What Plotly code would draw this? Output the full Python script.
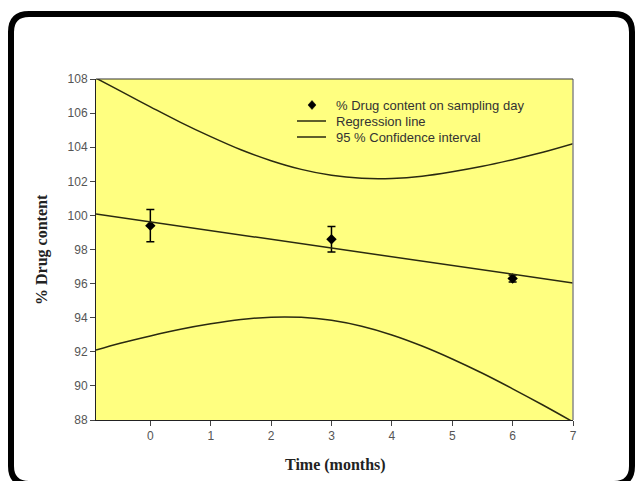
import plotly.graph_objects as go

# ---- data ----
months = [0, 3, 6]
drug_content = [99.4, 98.6, 96.3]
drug_err = [0.95, 0.75, 0.2]

reg_x = [-0.9, 7]
reg_y = [100.08, 96.04]

ci_x = [-0.9, -0.5, 0, 0.5, 1, 1.5, 2, 2.5, 3, 3.5, 4, 4.5, 5, 5.5, 6, 6.5, 7]
ci_upper = [108.05, 107.3, 106.37, 105.46, 104.62, 103.85, 103.21, 102.7, 102.35,
            102.18, 102.17, 102.3, 102.56, 102.88, 103.27, 103.7, 104.2]
ci_lower = [92.1, 92.5, 92.93, 93.32, 93.64, 93.89, 94.03, 94.02, 93.85,
            93.5, 92.99, 92.34, 91.58, 90.74, 89.83, 88.88, 87.89]

y_ticks = [88, 90, 92, 94, 96, 98, 100, 102, 104, 106, 108]
x_ticks = [0, 1, 2, 3, 4, 5, 6, 7]

legend_labels = ["% Drug content on sampling day", "Regression line", "95 % Confidence interval"]

W, H = 636, 481
ML, MR, MT, MB = 96, 63, 79, 61
PW, PH = W - ML - MR, H - MT - MB


def px(x):
    return (x - ML) / PW


def py(y):
    return (H - MB - y) / PH


LINE_C = "#2a2a10"

fig = go.Figure()

fig.add_trace(go.Scatter(
    x=ci_x, y=ci_upper, mode="lines", line=dict(color=LINE_C, width=1.5, shape="spline"),
    name=legend_labels[2]))
fig.add_trace(go.Scatter(
    x=ci_x, y=ci_lower, mode="lines", line=dict(color=LINE_C, width=1.5, shape="spline"),
    name=legend_labels[2]))
fig.add_trace(go.Scatter(
    x=months, y=drug_content, mode="markers",
    marker=dict(symbol="diamond", size=8, color="black"),
    error_y=dict(type="data", array=drug_err, color="black", thickness=1.5, width=4),
    name=legend_labels[0]))
fig.add_trace(go.Scatter(
    x=reg_x, y=reg_y, mode="lines", line=dict(color=LINE_C, width=1.5),
    name=legend_labels[1]))

axis_common = dict(
    showgrid=False, zeroline=False, showline=True, linecolor="#222", linewidth=1,
    ticks="outside", ticklen=5, tickcolor="#444", tickwidth=1,
    tickfont=dict(family="Arial, Liberation Sans", size=12, color="#555"),
)

fig.update_xaxes(range=[-0.9, 7], tickvals=x_ticks, **axis_common)
fig.update_yaxes(range=[88, 108], tickvals=y_ticks, **axis_common)

# frame (rounded rectangle)
x0, x1, y0, y1, r = 11, 632, 14, 484, 18
path = (f"M {px(x0 + r)},{py(y0)} L {px(x1 - r)},{py(y0)} Q {px(x1)},{py(y0)} {px(x1)},{py(y0 + r)} "
        f"L {px(x1)},{py(y1 - r)} Q {px(x1)},{py(y1)} {px(x1 - r)},{py(y1)} "
        f"L {px(x0 + r)},{py(y1)} Q {px(x0)},{py(y1)} {px(x0)},{py(y1 - r)} "
        f"L {px(x0)},{py(y0 + r)} Q {px(x0)},{py(y0)} {px(x0 + r)},{py(y0)} Z")

shapes = [
    dict(type="path", xref="paper", yref="paper", path=path,
         line=dict(color="black", width=6), layer="below"),
    dict(type="line", xref="paper", yref="paper", x0=1, x1=1, y0=0, y1=1,
         line=dict(color="#888", width=1.5)),
    dict(type="line", xref="paper", yref="paper", x0=0, x1=1, y0=1, y1=1,
         line=dict(color="#333", width=1)),
]

# manual legend
leg_y = [105, 121, 137]
dx, dy = 4, 4.5
cx, cy = 312, leg_y[0]
shapes.append(dict(type="path", xref="paper", yref="paper",
                   path=f"M {px(cx)},{py(cy - dy)} L {px(cx + dx)},{py(cy)} L {px(cx)},{py(cy + dy)} L {px(cx - dx)},{py(cy)} Z",
                   fillcolor="black", line=dict(color="black", width=0.5)))
for yy in leg_y[1:]:
    shapes.append(dict(type="line", xref="paper", yref="paper",
                       x0=px(297), x1=px(326), y0=py(yy), y1=py(yy),
                       line=dict(color=LINE_C, width=1.5)))

annotations = [
    dict(text="Time (months)", xref="paper", yref="paper", x=px(335), y=py(465),
         showarrow=False, xanchor="center", yanchor="middle",
         font=dict(family="Times New Roman, Liberation Serif", size=16, color="#222", weight="bold")),
    dict(text="% Drug content", xref="paper", yref="paper", x=px(42), y=py(250),
         showarrow=False, xanchor="center", yanchor="middle", textangle=-90,
         font=dict(family="Times New Roman, Liberation Serif", size=16, color="#222", weight="bold")),
]
for lab, yy in zip(legend_labels, leg_y):
    annotations.append(dict(text=lab, xref="paper", yref="paper", x=px(334), y=py(yy),
                            showarrow=False, xanchor="left", yanchor="middle",
                            font=dict(family="Arial, Liberation Sans", size=13, color="#333")))

fig.update_layout(
    width=W, height=H,
    margin=dict(l=ML, r=MR, t=MT, b=MB),
    paper_bgcolor="white", plot_bgcolor="#FFFF80",
    shapes=shapes, annotations=annotations,
    showlegend=False,
)

fig.write_html("out.html")
